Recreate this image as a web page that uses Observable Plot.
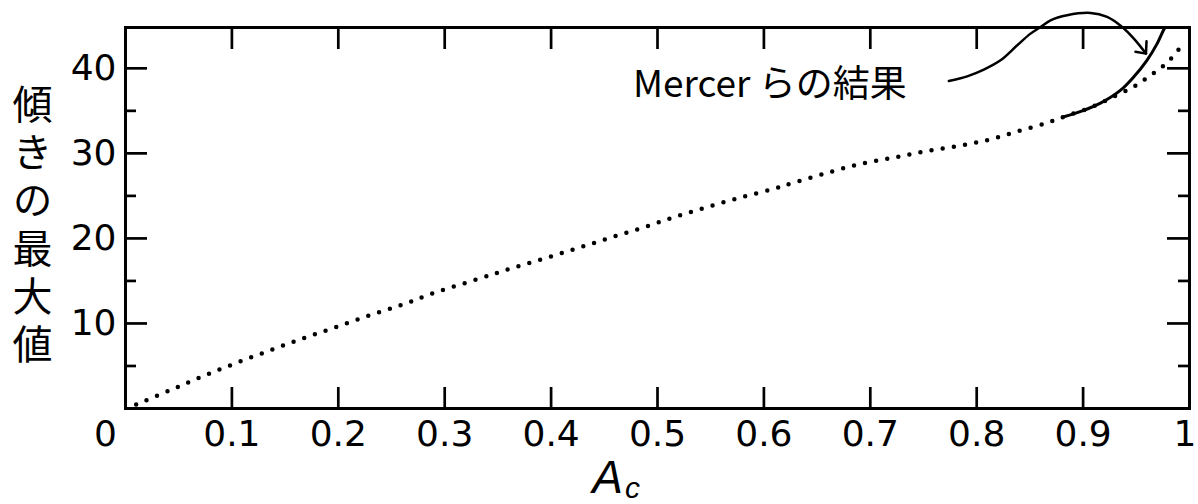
<!DOCTYPE html>
<html><head><meta charset="utf-8">
<script src="https://cdn.jsdelivr.net/npm/d3@7"></script>
<script src="https://cdn.jsdelivr.net/npm/@observablehq/plot@0.6"></script>
<style>body{margin:0;background:#fff}</style>
</head><body><div id="chart"></div>
<script>
// ---- data ----
const xTickLabels = [0.1, 0.2, 0.3, 0.4, 0.5, 0.6, 0.7, 0.8, 0.9];
const xEndLabel = 1;
const xInnerTicks = [0.1, 0.2, 0.3, 0.4, 0.5, 0.6, 0.7, 0.8, 0.9];
const yMajorTicks = [10, 20, 30, 40];
const yMinorTicks = [5, 15, 25, 35];
const yTitle = "傾きの最大値";
const xTitleMain = "A";
const xTitleSub = "c";
const originLabel = "0";

// dotted curve (computed maximum slope)
const dottedX = [0.010, 0.041, 0.071, 0.102, 0.134, 0.165, 0.196, 0.228, 0.260, 0.290, 0.332, 0.363, 0.395, 0.426, 0.456, 0.487, 0.517, 0.547, 0.578, 0.608, 0.628, 0.661, 0.692, 0.722, 0.750, 0.779, 0.808, 0.836, 0.864, 0.882, 0.905, 0.927, 0.947, 0.957, 0.966, 0.976, 0.985, 0.994];
const dottedY = [0.47, 2.1, 3.7, 5.25, 6.75, 8.16, 9.5, 10.9, 12.2, 13.6, 15.25, 16.5, 17.7, 18.9, 20.1, 21.3, 22.55, 23.7, 24.8, 25.8, 26.55, 27.76, 28.8, 29.5, 30.2, 30.8, 31.5, 32.5, 33.5, 34.3, 35.3, 36.55, 37.8, 38.6, 39.4, 40.35, 41.45, 42.9];

// Mercer et al. result (solid)
const mercerX = [0.882, 0.9006, 0.9163, 0.935, 0.9477, 0.960, 0.9696, 0.9755, 0.977];
const mercerY = [34.3, 35.06, 35.9, 37.4, 39.0, 40.94, 42.9, 44.47, 44.8];

// annotation
const annotX = [0.477];
const annotY = [38.0];
const annotText = ["Mercer らの結果"];
const arrowX = [0.7738, 0.7911, 0.8067, 0.8224, 0.8381, 0.8506, 0.860, 0.8694, 0.885, 0.907, 0.9226, 0.9367, 0.9477, 0.9591];
const arrowY = [38.51, 39.06, 39.85, 40.94, 42.71, 44.08, 44.86, 45.65, 46.24, 46.51, 46.04, 44.86, 43.49, 41.73];
const headX = [0.9492, 0.9591, 0.9596];
const headY = [41.94, 41.73, 43.18];

// ---- build ----
const dotted = dottedX.map((x, i) => ({x, y: dottedY[i]}));
const mercer = mercerX.map((x, i) => ({x, y: mercerY[i]}));
const arrow = arrowX.map((x, i) => ({x, y: arrowY[i]}));
const head = headX.map((x, i) => ({x, y: headY[i]}));
const annot = annotX.map((x, i) => ({x, y: annotY[i], text: annotText[i]}));

const W = 1198, H = 504, mL = 125, mR = 9, mT = 27, mB = 96;
const fh = H - mT - mB, fw = W - mL - mR;
const tickFont = "DejaVu Sans, Liberation Sans, sans-serif";
const jpFont = "Noto Sans CJK JP, sans-serif";
const fs = 36;

const chart = Plot.plot({
  width: W, height: H,
  marginLeft: mL, marginRight: mR, marginTop: mT, marginBottom: mB,
  style: {background: "white", color: "black", fontFamily: tickFont},
  x: {domain: [0, 1], axis: null},
  y: {domain: [0, 44.8], axis: null},
  marks: [
    Plot.frame({stroke: "black", strokeWidth: 3}),
    Plot.tickX(xInnerTicks, {x: d => d, insetTop: fh - 21, stroke: "black", strokeWidth: 2.7}),
    Plot.tickX(xInnerTicks, {x: d => d, insetBottom: fh - 22, stroke: "black", strokeWidth: 2.7}),
    Plot.tickY(yMajorTicks, {y: d => d, insetRight: fw - 22, stroke: "black", strokeWidth: 2.7}),
    Plot.tickY(yMajorTicks, {y: d => d, insetLeft: fw - 22, stroke: "black", strokeWidth: 2.7}),
    Plot.tickY(yMinorTicks, {y: d => d, insetRight: fw - 11, stroke: "black", strokeWidth: 2.7}),
    Plot.tickY(yMinorTicks, {y: d => d, insetLeft: fw - 11, stroke: "black", strokeWidth: 2.7}),
    Plot.axisX(xTickLabels, {tickSize: 0, tickPadding: 12, fontSize: fs, tickFormat: d => String(d), label: null, fill: "black"}),
    Plot.text([xEndLabel], {x: d => d, frameAnchor: "bottom", dy: 12, dx: 7, lineAnchor: "top", textAnchor: "end", fontSize: fs, text: d => String(d), fill: "black"}),
    Plot.axisY(yMajorTicks, {tickSize: 0, tickPadding: 9, fontSize: fs, tickFormat: d => String(d), label: null, fill: "black"}),
    Plot.text([0], {x: d => d, frameAnchor: "bottom", dy: 12, dx: -20, lineAnchor: "top", textAnchor: "middle", fontSize: fs, text: () => originLabel, fill: "black"}),
    Plot.text([yTitle], {frameAnchor: "left", dx: -93, dy: 10, textAnchor: "middle", lineAnchor: "middle", fontSize: 40, fontFamily: jpFont, text: d => d, fill: "black"}),
    Plot.text([xTitleMain], {frameAnchor: "bottom", dx: -50, dy: 70, textAnchor: "middle", lineAnchor: "middle", fontSize: 46, fontStyle: "italic", fontFamily: "Liberation Sans, sans-serif", text: d => d, fill: "black"}),
    Plot.text([xTitleSub], {frameAnchor: "bottom", dx: -25, dy: 80, textAnchor: "middle", lineAnchor: "middle", fontSize: 30, fontStyle: "italic", fontFamily: "Liberation Sans, sans-serif", text: d => d, fill: "black"}),
    Plot.line(dotted, {x: "x", y: "y", curve: "catmull-rom", stroke: "black", strokeWidth: 4.5, strokeLinecap: "round", strokeDasharray: "0 11.3"}),
    Plot.line(mercer, {x: "x", y: "y", curve: "catmull-rom", stroke: "black", strokeWidth: 3}),
    Plot.line(arrow, {x: "x", y: "y", curve: "catmull-rom", stroke: "black", strokeWidth: 2.5, strokeLinecap: "round"}),
    Plot.line(head, {x: "x", y: "y", stroke: "black", strokeWidth: 2.5, strokeLinecap: "round", strokeLinejoin: "round"}),
    Plot.text(annot, {x: "x", y: "y", text: "text", textAnchor: "start", fontSize: 37, fontFamily: jpFont, fill: "black"})
  ]
});
// vertical (tategaki) y-axis title
d3.select(chart).selectAll("text")
  .filter(function () { return this.textContent === yTitle; })
  .attr("y", null)
  .style("writing-mode", "vertical-rl")
  .style("letter-spacing", "8px");
document.getElementById("chart").appendChild(chart);
</script>
</body></html>
